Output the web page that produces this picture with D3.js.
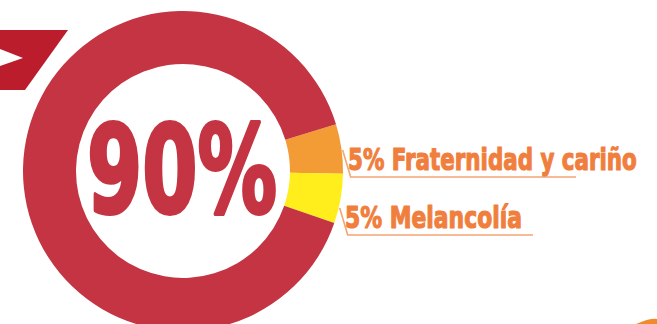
<!DOCTYPE html>
<html>
<head>
<meta charset="utf-8">
<script src="https://cdn.jsdelivr.net/npm/d3@7/dist/d3.min.js"></script>
<style>
  html, body { margin: 0; padding: 0; background: #ffffff; }
  svg { display: block; }
</style>
</head>
<body>
<svg id="chart" width="657" height="324"></svg>
<script>
// Share of feelings, in percent
const categories = ["Fraternidad y cariño", "Melancolía", "Resto"];
const values = [5, 5, 90];
const colors = ["#F39B34", "#FFEE1B", "#C43442"];
const labelColor = "#F07E3C";
const leaderColor = "#F4A574";

const svg = d3.select("#chart");
const cx = 183, cy = 171;
const rOuter = 160, rInner = 107;

const deg = Math.PI / 180;
const pie = d3.pie().sort(null).value(d => d)
  .startAngle(73 * deg).endAngle(73 * deg + 2 * Math.PI);
const arc = d3.arc().innerRadius(rInner).outerRadius(rOuter);
const arcs = pie(values);

// Banner with arrow at the top-left corner
svg.append("path")
  .attr("d", "M0,30 L68,30 L25,90 L0,90 Z")
  .attr("fill", "#BB1D2C");
svg.append("path")
  .attr("d", "M0,49 L23,58 L0,66 Z")
  .attr("fill", "#ffffff");

// Decorative arc peeking in at the bottom-right corner
svg.append("path")
  .attr("d", "M636,324 Q650,318 657,319 L657,324 Z")
  .attr("fill", "#F08A2C");

// Donut
const g = svg.append("g").attr("transform", `translate(${cx},${cy})`);
g.selectAll("path.slice")
  .data(arcs)
  .join("path")
  .attr("class", "slice")
  .attr("d", arc)
  .attr("fill", (d, i) => colors[i]);

// Condensed heavy text: draw at natural width, then squeeze horizontally
function condensedText(x, baseline, width, size, color, weightStroke, str) {
  const grp = svg.append("g");
  const t = grp.append("text")
    .attr("x", 0)
    .attr("y", 0)
    .attr("font-family", "'DejaVu Sans', sans-serif")
    .attr("font-weight", "bold")
    .attr("font-size", size)
    .attr("fill", color)
    .attr("stroke", color)
    .attr("stroke-width", weightStroke)
    .attr("stroke-linejoin", "round")
    .text(str);
  const natural = t.node().getComputedTextLength();
  grp.attr("transform", `translate(${x},${baseline}) scale(${width / natural},1)`);
  return t;
}

// Big percentage in the hole
const bigIdx = values.indexOf(d3.max(values));
condensedText(87, 212, 190, 122, colors[bigIdx], 4, values[bigIdx] + "%");

// Labels for the small slices, with leader lines and underlines
const labelLayout = [
  { baseline: 170, textX: 348, textLen: 289, underlineEnd: 576 },
  { baseline: 228, textX: 345, textLen: 177, underlineEnd: 533 }
];
labelLayout.forEach((L, i) => {
  const y0 = L.baseline - 20;
  const x0 = cx + Math.sqrt(161 * 161 - (y0 - cy) * (y0 - cy));
  const y1 = L.baseline + 7;
  const x1 = x0 + 8;
  svg.append("path")
    .attr("d", `M${x0},${y0} L${x1},${y1} L${L.underlineEnd},${y1}`)
    .attr("fill", "none")
    .attr("stroke", leaderColor)
    .attr("stroke-width", 1.6);
  condensedText(L.textX, L.baseline, L.textLen, 30, labelColor, 1.2,
    `${values[i]}% ${categories[i]}`);
});
</script>
</body>
</html>
